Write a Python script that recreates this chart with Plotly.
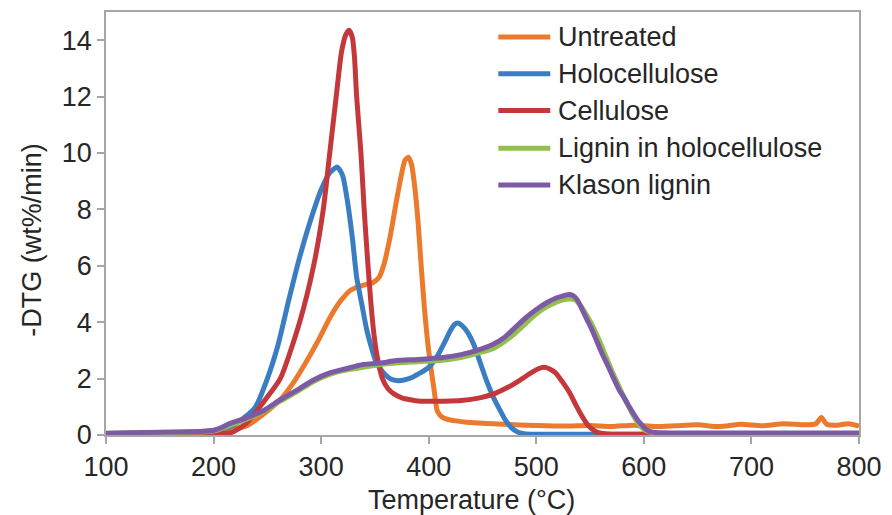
import plotly.graph_objects as go

# Temperature (°C) and -DTG (wt%/min) values
untreated_t = [100, 150, 200, 220, 232, 245, 262, 275, 287, 298, 308, 318, 328, 338, 348, 354, 358, 364, 370, 375, 378, 381, 384, 387, 390, 393, 396, 399, 402, 405, 408, 412, 418, 425, 435, 450, 470, 490, 510, 530, 550, 570, 590, 610, 630, 650, 670, 690, 710, 730, 750, 760, 765, 770, 780, 790, 800]
untreated_y = [0.05, 0.08, 0.15, 0.22, 0.35, 0.7, 1.25, 1.9, 2.65, 3.4, 4.15, 4.75, 5.15, 5.3, 5.4, 5.6, 6.0, 7.0, 8.3, 9.3, 9.75, 9.85, 9.6, 8.8, 7.6, 6.0, 4.5, 3.3, 2.4, 1.6, 0.85, 0.65, 0.55, 0.5, 0.45, 0.42, 0.38, 0.35, 0.33, 0.32, 0.34, 0.3, 0.35, 0.3, 0.33, 0.36, 0.3, 0.38, 0.33, 0.4, 0.36, 0.4, 0.62, 0.38, 0.35, 0.4, 0.32]

holo_t = [100, 150, 190, 205, 216, 228, 239, 250, 260, 270, 280, 290, 300, 308, 315, 320, 324, 329, 333, 338, 342, 346, 351, 358, 364, 370, 377, 385, 392, 400, 408, 415, 420, 424, 427, 431, 436, 442, 448, 454, 460, 466, 471, 477, 483, 490, 520, 600, 700, 800]
holo_y = [0.05, 0.07, 0.12, 0.2, 0.3, 0.6, 1.0, 2.0, 3.2, 4.8, 6.3, 7.6, 8.7, 9.3, 9.5, 9.2, 8.4, 7.0, 5.6, 4.6, 3.8, 3.2, 2.6, 2.2, 2.0, 1.93, 1.95, 2.05, 2.2, 2.4, 2.8, 3.3, 3.7, 3.92, 3.97, 3.88, 3.65, 3.2, 2.55, 1.9, 1.35, 0.9, 0.55, 0.25, 0.1, 0.04, 0.03, 0.03, 0.03, 0.03]

cell_t = [100, 150, 200, 216, 230, 247, 262, 280, 293, 302, 308, 314, 319, 323, 326, 329, 331, 333, 337, 340, 343, 346, 349, 352, 357, 362, 368, 375, 383, 392, 400, 415, 430, 445, 460, 474, 485, 495, 502, 507, 512, 518, 524, 531, 537, 542, 548, 554, 560, 570, 600, 700, 800]
cell_y = [0.03, 0.04, 0.05, 0.08, 0.4, 1.2, 2.0, 4.0, 6.0, 8.0, 10.0, 12.0, 13.6, 14.2, 14.35, 14.1, 13.4, 12.0, 10.0, 8.0, 6.3, 4.8, 3.6, 2.8, 2.0, 1.65, 1.45, 1.32, 1.25, 1.2, 1.2, 1.2, 1.22, 1.3, 1.45, 1.7, 1.95, 2.2, 2.35, 2.4, 2.35, 2.2, 1.9, 1.5, 1.05, 0.7, 0.35, 0.15, 0.06, 0.03, 0.03, 0.03, 0.03]

lig_holo_t = [100, 150, 200, 216, 230, 247, 262, 278, 293, 308, 323, 339, 355, 370, 390, 413, 430, 445, 459, 470, 480, 490, 500, 510, 518, 524, 530, 536, 541, 546, 552, 558, 564, 570, 576, 582, 588, 594, 600, 606, 612, 630, 700, 800]
lig_holo_y = [0.05, 0.08, 0.14, 0.35, 0.55, 0.85, 1.2, 1.55, 1.9, 2.15, 2.3, 2.4, 2.5, 2.55, 2.6, 2.65, 2.75, 2.9, 3.05, 3.3, 3.6, 3.95, 4.3, 4.55, 4.7, 4.78, 4.82, 4.8, 4.6, 4.3, 3.9, 3.4, 2.85, 2.3, 1.8, 1.3, 0.85, 0.45, 0.2, 0.1, 0.06, 0.05, 0.05, 0.05]

klason_t = [100, 150, 200, 216, 230, 247, 262, 278, 293, 308, 323, 339, 355, 370, 390, 413, 430, 445, 459, 470, 480, 490, 500, 510, 518, 524, 530, 534, 538, 542, 547, 551, 556, 561, 566, 572, 577, 582, 588, 593, 597, 602, 608, 630, 700, 800]
klason_y = [0.06, 0.1, 0.16, 0.42, 0.6, 0.88, 1.25, 1.6, 1.95, 2.2, 2.35, 2.5, 2.55, 2.64, 2.68, 2.75, 2.85, 3.0, 3.2, 3.45, 3.8, 4.15, 4.45, 4.7, 4.85, 4.92, 4.98, 4.95, 4.8, 4.5, 4.1, 3.8, 3.35, 2.9, 2.5, 2.0, 1.6, 1.3, 0.9, 0.6, 0.4, 0.2, 0.1, 0.07, 0.07, 0.07]

series_names = ["Untreated", "Holocellulose", "Cellulose", "Lignin in holocellulose", "Klason lignin"]
series_t = [untreated_t, holo_t, cell_t, lig_holo_t, klason_t]
series_y = [untreated_y, holo_y, cell_y, lig_holo_y, klason_y]
series_colors = ["#EC7A2C", "#3A7DC2", "#C4383C", "#93C04C", "#7D5AA6"]

x_ticks = [100, 200, 300, 400, 500, 600, 700, 800]
y_ticks = [0, 2, 4, 6, 8, 10, 12, 14]

FONT = "Liberation Sans, Arial, sans-serif"
TXT = "#262626"
FS = 27

fig = go.Figure()
for name, t, y, c in zip(series_names, series_t, series_y, series_colors):
    fig.add_trace(go.Scatter(x=t, y=y, mode="lines", name=name, showlegend=False,
                             line=dict(color=c, width=5, shape="spline", smoothing=0.6)))

# Legend drawn manually (longer line samples like the reference)
leg_y = [0.941, 0.854, 0.767, 0.678, 0.591]
for name, c, ly in zip(series_names, series_colors, leg_y):
    fig.add_shape(type="line", xref="paper", yref="paper", x0=0.521, x1=0.590, y0=ly, y1=ly,
                  line=dict(color=c, width=5))
    fig.add_annotation(xref="paper", yref="paper", x=0.598, y=ly, text=name, showarrow=False,
                       xanchor="left", yanchor="middle",
                       font=dict(family=FONT, size=FS, color=TXT))

# Axis titles
fig.add_annotation(xref="paper", yref="paper", x=0.486, y=-0.153, text="Temperature (°C)",
                   showarrow=False, xanchor="center", yanchor="middle",
                   font=dict(family=FONT, size=FS, color=TXT))
fig.add_annotation(xref="paper", yref="paper", x=-0.0986, y=0.461, text="-DTG (wt%/min)",
                   showarrow=False, xanchor="center", yanchor="middle", textangle=-90,
                   font=dict(family=FONT, size=FS, color=TXT))

axis_common = dict(showline=True, linecolor="#A6A6A6", linewidth=1.5, mirror=True,
                   ticks="outside", ticklen=7, tickcolor="#A6A6A6", tickwidth=1.5,
                   showgrid=False, zeroline=False,
                   tickfont=dict(family=FONT, size=FS, color=TXT))

fig.update_xaxes(range=[100, 800], tickvals=x_ticks, **axis_common)
fig.update_yaxes(range=[0, 15], tickvals=y_ticks, **axis_common)

fig.update_layout(
    width=892, height=515,
    margin=dict(l=106, r=25, t=10, b=80),
    paper_bgcolor="white", plot_bgcolor="white",
    showlegend=False,
)

fig.write_html("out.html")
